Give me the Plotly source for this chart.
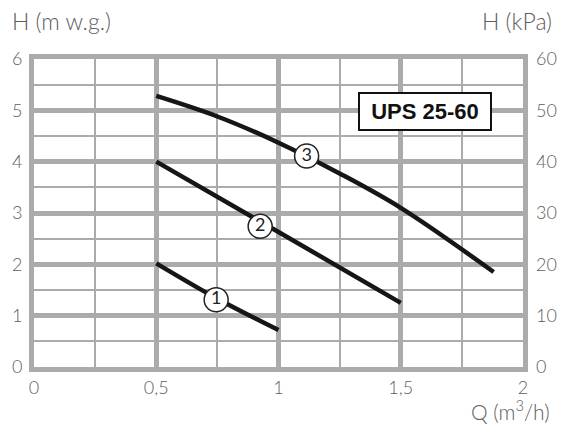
import plotly.graph_objects as go

# ---- data ----
curve1_q = [0.5, 0.75, 1.0]
curve1_h = [2.02, 1.33, 0.72]
curve2_q = [0.5, 1.0, 1.5]
curve2_h = [4.0, 2.63, 1.25]
curve3_q = [0.5, 0.75, 1.0, 1.25, 1.5, 1.88]
curve3_h = [5.28, 4.88, 4.37, 3.77, 3.10, 1.85]

label_text = ["1", "2", "3"]
label_q = [0.745, 0.925, 1.115]
label_h = [1.31, 2.74, 4.11]

x_tick_vals = [0, 0.5, 1, 1.5, 2]
x_tick_text = ["0", "0,5", "1", "1,5", "2"]
y_tick_vals = [0, 1, 2, 3, 4, 5, 6]
y2_tick_vals = [0, 10, 20, 30, 40, 50, 60]

model_name = "UPS 25-60"

GRID = "#ababab"
TXT = "#5e5e5e"
FONT = "Lato, 'Open Sans', sans-serif"

fig = go.Figure()
for q, h in [(curve1_q, curve1_h), (curve2_q, curve2_h), (curve3_q, curve3_h)]:
    fig.add_trace(go.Scatter(x=q, y=h, mode="lines", line=dict(color="#161616", width=4.5, shape="spline"),
                             showlegend=False, hoverinfo="skip"))
fig.add_trace(go.Scatter(x=label_q, y=label_h, mode="markers+text", text=label_text,
                         textposition="middle center",
                         textfont=dict(family=FONT, size=18, color="#222"),
                         marker=dict(size=24, color="white", line=dict(color="#222", width=1.5)),
                         showlegend=False, hoverinfo="skip"))
fig.add_trace(go.Scatter(x=[0, 2], y=[0, 60], yaxis="y2", mode="markers",
                         marker=dict(opacity=0), showlegend=False, hoverinfo="skip"))

tickfont = dict(family=FONT, size=18, color=TXT, weight=300)
titlefont = dict(family=FONT, size=23, color=TXT, weight=300)

fig.update_layout(
    width=569, height=425,
    margin=dict(l=34, r=42, t=59, b=58),
    paper_bgcolor="white", plot_bgcolor="white",
    xaxis=dict(range=[0, 2], tickvals=x_tick_vals, ticktext=x_tick_text,
               showgrid=True, gridcolor=GRID, gridwidth=5,
               minor=dict(dtick=0.25, showgrid=True, gridcolor=GRID, gridwidth=2),
               showline=True, linecolor=GRID, linewidth=5, mirror=True,
               zeroline=False, ticks="", ticklabelstandoff=0,
               tickfont=tickfont, fixedrange=True),
    yaxis=dict(range=[0, 6], tickvals=y_tick_vals,
               showgrid=True, gridcolor=GRID, gridwidth=5,
               minor=dict(dtick=0.5, showgrid=True, gridcolor=GRID, gridwidth=2),
               showline=True, linecolor=GRID, linewidth=5, mirror=True,
               zeroline=False, ticks="", ticklabelstandoff=3,
               tickfont=tickfont, fixedrange=True),
    yaxis2=dict(range=[0, 60], tickvals=y2_tick_vals, overlaying="y", side="right",
                showgrid=False, zeroline=False, showline=False, ticks="", ticklabelstandoff=12,
                tickfont=tickfont, fixedrange=True),
    annotations=[
        dict(text="H (m w.g.)", xref="paper", yref="paper", x=-0.049, y=1.123,
             xanchor="left", yanchor="middle", showarrow=False, font=titlefont),
        dict(text="H (kPa)", xref="paper", yref="paper", x=1.063, y=1.123,
             xanchor="right", yanchor="middle", showarrow=False, font=titlefont),
        dict(text="Q (m<sup>3</sup>/h)", xref="paper", yref="paper", x=1.059, y=-0.141,
             xanchor="right", yanchor="middle", showarrow=False,
             font=dict(family=FONT, size=21, color=TXT, weight=300)),
        dict(text="<b>" + model_name + "</b>", xref="x", yref="y", x=1.6, y=4.97,
             xanchor="center", yanchor="middle", showarrow=False,
             width=128, height=33, bgcolor="white", bordercolor="#111", borderwidth=2,
             font=dict(family="'Liberation Sans', Arial, sans-serif", size=22, color="#111")),
    ],
)

fig.write_html("out.html", config={"displayModeBar": False},
               post_script="document.body.style.margin='0';document.body.style.overflow='hidden';")
